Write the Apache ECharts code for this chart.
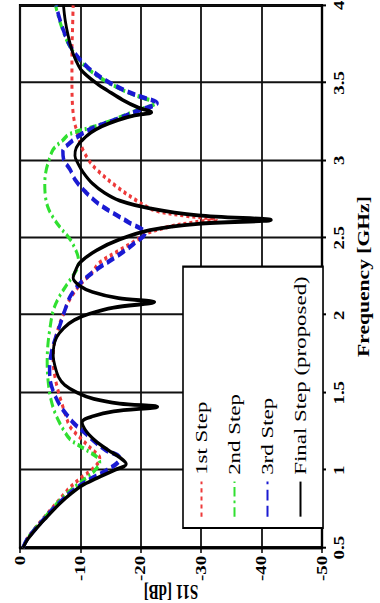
<!DOCTYPE html>
<html>
<head>
<meta charset="utf-8">
<script src="https://cdn.jsdelivr.net/npm/echarts@6/dist/echarts.min.js"></script>
<style>
  html, body { margin: 0; padding: 0; background: #fff; overflow: hidden; }
  body { width: 380px; height: 603px; position: relative; }
  #wrap {
    position: absolute; left: 0; top: 0;
    width: 447px; height: 380px;
    transform-origin: 0 0;
    transform: translate(0px, 603px) rotate(-90deg) scale(1.349, 1);
  }
</style>
</head>
<body>
<div id="wrap"></div>
<script>
// ---- data ----
var seriesNames = ['1st Step', '2nd Step', '3rd Step', 'Final Step (proposed)'];

var freqTicks = [0.5, 1, 1.5, 2, 2.5, 3, 3.5, 4];
var s11Ticks = [0, -10, -20, -30, -40, -50];

var step1Freq = [0.5,0.55,0.6,0.65,0.7,0.75,0.8,0.85,0.89,0.96,1.0,1.05,1.08,1.13,1.2,1.28,1.35,1.41,1.5,1.6,1.7,1.8,1.9,2.0,2.1,2.2,2.27,2.34,2.42,2.49,2.53,2.57,2.6,2.62,2.64,2.67,2.7,2.74,2.83,2.94,3.0,3.07,3.13,3.19,3.25,3.35,3.5,3.7,3.85,4.0];
var step1S11 = [-0.5,-1.1,-2,-3,-4.1,-5.2,-6.3,-7.4,-8.3,-10.4,-11.8,-13,-13.2,-12,-10.2,-8.3,-7.6,-7.1,-6.4,-5.8,-5.5,-5.6,-6.2,-7.1,-8.2,-10,-11.8,-13.2,-16.5,-19.5,-21,-24.5,-29,-32.5,-28,-23,-21,-19.3,-16,-12.7,-11.4,-10.4,-9.8,-9.4,-9,-8.7,-8.6,-8.6,-8.7,-8.8];

var step2Freq = [0.5,0.55,0.6,0.65,0.7,0.75,0.8,0.85,0.9,0.95,1.0,1.05,1.08,1.13,1.2,1.26,1.31,1.37,1.43,1.5,1.6,1.7,1.8,1.9,2.03,2.12,2.2,2.27,2.33,2.38,2.44,2.49,2.56,2.63,2.7,2.77,2.85,2.93,3.0,3.07,3.13,3.17,3.22,3.26,3.32,3.37,3.41,3.45,3.52,3.6,3.68,3.76,3.86,3.95,4.0];
var step2S11 = [-0.5,-1.1,-2,-3.1,-4.2,-5.3,-6.5,-7.8,-9.3,-11,-12.4,-13.2,-12.9,-11,-8.3,-7.2,-6.5,-5.8,-5.3,-4.9,-4.6,-4.5,-4.6,-4.9,-5.5,-6.5,-7.8,-9,-9.7,-9.6,-9,-8.3,-6.8,-5.5,-4.6,-4.2,-4.1,-4.3,-4.8,-5.5,-7.1,-8.2,-12.5,-15.4,-19.2,-22.4,-19.8,-17.2,-13.8,-11,-9.2,-7.9,-6.9,-6.2,-5.9];

var step3Freq = [0.5,0.55,0.6,0.65,0.7,0.75,0.8,0.85,0.9,0.95,1.0,1.05,1.08,1.13,1.19,1.24,1.3,1.36,1.42,1.5,1.58,1.66,1.74,1.82,1.9,1.97,2.04,2.12,2.2,2.29,2.38,2.46,2.53,2.6,2.66,2.72,2.79,2.87,2.94,3.01,3.06,3.11,3.17,3.22,3.26,3.32,3.37,3.41,3.45,3.52,3.6,3.68,3.76,3.86,3.95,4.0];
var step3S11 = [-0.5,-1.1,-2.1,-3.2,-4.3,-5.5,-6.8,-8.2,-9.9,-12,-14.4,-16.2,-16.5,-14.2,-12.2,-10.8,-9,-7.7,-6.6,-5.6,-5,-4.9,-5.1,-5.6,-6.3,-6.9,-7.5,-8.3,-9.8,-12.5,-16,-18.8,-20.7,-18,-15.4,-13,-11,-9.2,-8.3,-7.2,-7.1,-8.2,-10.2,-12.8,-15.7,-19.5,-22.7,-20,-17.4,-14,-11.2,-9.3,-8,-7,-6.3,-6];

var finalFreq = [0.5,0.55,0.6,0.65,0.7,0.75,0.8,0.85,0.9,0.95,1.0,1.04,1.08,1.13,1.19,1.25,1.31,1.35,1.38,1.41,1.43,1.46,1.5,1.55,1.6,1.67,1.74,1.8,1.86,1.92,1.97,2.01,2.05,2.085,2.11,2.15,2.19,2.24,2.29,2.34,2.42,2.49,2.55,2.59,2.615,2.645,2.69,2.74,2.79,2.85,2.92,2.98,3.03,3.08,3.13,3.18,3.22,3.26,3.29,3.31,3.34,3.39,3.45,3.49,3.58,3.65,3.71,3.8,3.9,4.0];
var finalS11 = [-0.5,-1.2,-2.2,-3.3,-4.5,-5.7,-7,-8.5,-10.2,-12.8,-15.6,-17.6,-16.6,-14.6,-12.5,-11,-10.3,-12.2,-15.5,-22.8,-16.5,-12.2,-9.5,-7.4,-6.4,-5.8,-5.5,-5.6,-6.1,-7.3,-9,-11.5,-15.5,-22.3,-16.3,-12,-9.9,-8.8,-9.2,-9.9,-12.7,-16.5,-21.5,-29.5,-41.6,-29.5,-21.5,-16.5,-14,-12,-10.5,-9.6,-9.1,-9.3,-10.3,-11.8,-13.6,-16.2,-19,-21.8,-19.6,-17,-14.5,-12.9,-10.2,-9.2,-8.6,-8,-7.5,-7.2];

function pairs(fs, vs) {
  var out = [];
  for (var i = 0; i < fs.length; i++) out.push([fs[i], vs[i]]);
  return out;
}

var serif = '"Liberation Serif", "DejaVu Serif", serif';
var chart = echarts.init(document.getElementById('wrap'), null, { renderer: 'svg' });

var lineCommon = { type: 'line', symbol: 'none', showSymbol: false, smooth: 0.35, animation: false };

chart.setOption({
  animation: false,
  backgroundColor: '#fff',
  grid: { left: 41, right: 4, top: 20, bottom: 58, containLabel: false, outerBoundsMode: 'none',
          show: true, borderColor: '#000', borderWidth: 2.2, backgroundColor: 'transparent' },
  legend: {
    data: seriesNames,
    orient: 'vertical',
    left: 55.6, top: 183,
    itemWidth: 26, itemHeight: 14, itemGap: 16,
    padding: [10, 7, 14, 7.4],
    borderColor: '#000', borderWidth: 1.6,
    backgroundColor: '#fff',
    itemStyle: { opacity: 0 },
    textStyle: { fontFamily: serif, fontSize: 17, color: '#000' }
  },
  xAxis: {
    type: 'value', min: 0.5, max: 4, interval: 0.5,
    name: 'Frequency [GHz]', nameLocation: 'middle', nameGap: 34, nameMoveOverlap: false,
    nameTextStyle: { fontFamily: serif, fontSize: 16, fontWeight: 'bold', color: '#000' },
    axisLine: { show: true, onZero: false, lineStyle: { color: '#000', width: 2.2 } },
    axisTick: { show: true, length: 4, lineStyle: { color: '#000', width: 1.5 } },
    axisLabel: { margin: 10, fontFamily: serif, fontSize: 14, fontWeight: 'bold', color: '#000',
                 formatter: function (v) { return String(v); } },
    splitLine: { show: true, lineStyle: { color: '#111', width: 1.5 } }
  },
  yAxis: {
    type: 'value', min: -50, max: 0, interval: 10,
    name: 'S11 [dB]', nameLocation: 'middle', nameGap: 25, nameMoveOverlap: false,
    nameTextStyle: { fontFamily: serif, fontSize: 15, fontWeight: 'bold', color: '#000' },
    axisLine: { show: true, onZero: false, lineStyle: { color: '#000', width: 2.2 } },
    axisTick: { show: true, length: 4, lineStyle: { color: '#000', width: 1.5 } },
    axisLabel: { margin: 6, fontFamily: serif, fontSize: 14, fontWeight: 'bold', color: '#000' },
    splitLine: { show: true, lineStyle: { color: '#111', width: 1.8 } }
  },
  series: [
    Object.assign({}, lineCommon, { name: seriesNames[0], data: pairs(step1Freq, step1S11),
      lineStyle: { color: '#ee3a3a', width: 3, type: [3, 3], cap: 'butt' }, itemStyle: { color: '#ee3a3a' } }),
    Object.assign({}, lineCommon, { name: seriesNames[1], data: pairs(step2Freq, step2S11),
      lineStyle: { color: '#30e030', width: 3, type: [7, 3, 2, 3], cap: 'butt' }, itemStyle: { color: '#30e030' } }),
    Object.assign({}, lineCommon, { name: seriesNames[2], data: pairs(step3Freq, step3S11),
      lineStyle: { color: '#1a1ad2', width: 3.5, type: [8, 4], cap: 'butt' }, itemStyle: { color: '#1a1ad2' } }),
    Object.assign({}, lineCommon, { name: seriesNames[3], data: pairs(finalFreq, finalS11),
      lineStyle: { color: '#000', width: 2.8, type: 'solid' }, itemStyle: { color: '#000' } })
  ]
});
</script>
</body>
</html>
